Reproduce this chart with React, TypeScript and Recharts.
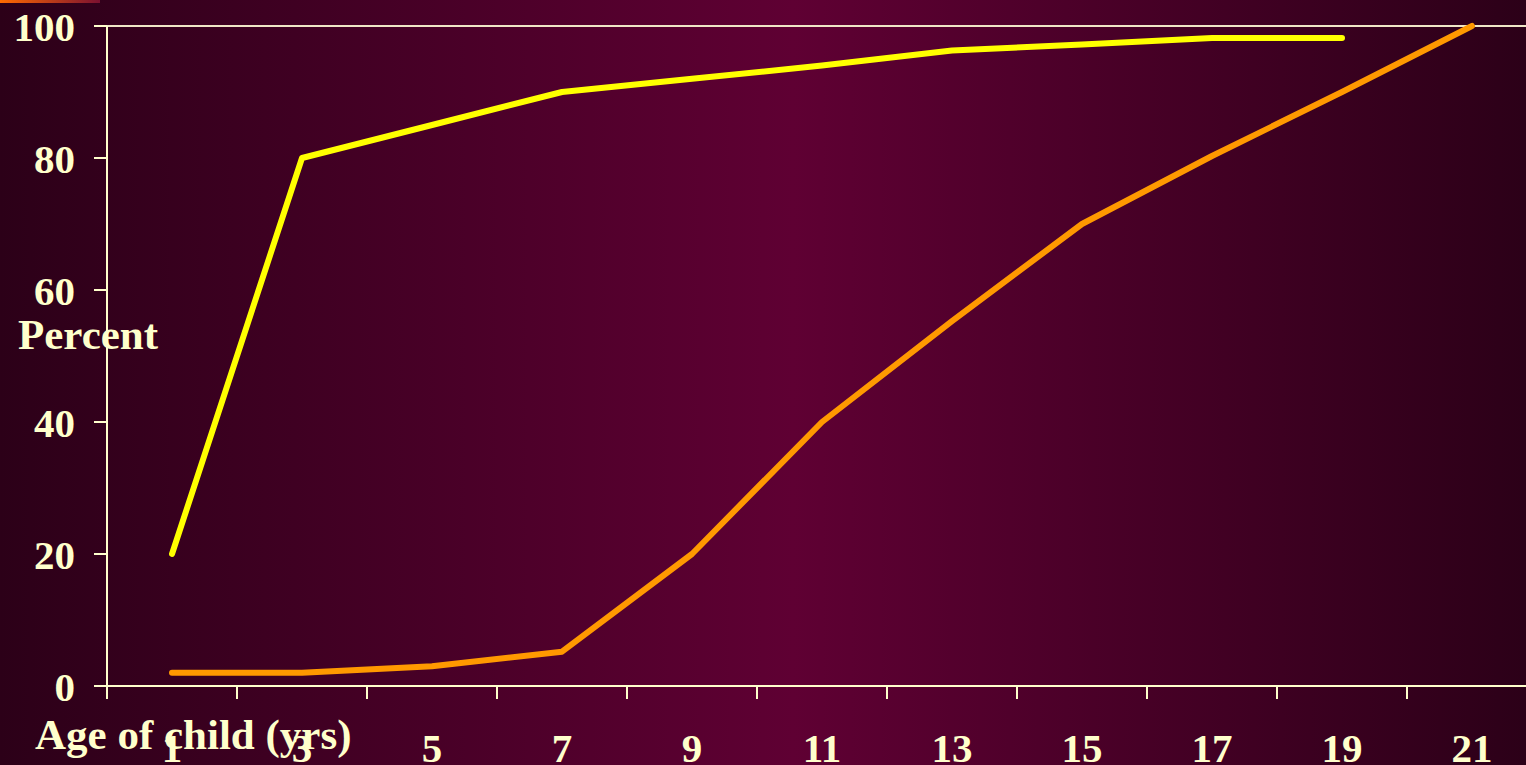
import React from 'react';
import { LineChart, Line, XAxis, YAxis, ReferenceLine } from 'recharts';

const ages = [1, 3, 5, 7, 9, 11, 13, 15, 17, 19, 21];
const yellowSeries = [20, 80, 85, 90, 92, 94, 96.3, 97.2, 98.2, 98.2, null];
const orangeSeries = [2, 2, 3, 5.2, 20, 40, 55.3, 70, 80.3, 90, 100];
const xTicks = [0, 1, 2, 3, 4, 5, 6, 7, 8, 9, 10, 11, 12, 13, 14, 15, 16, 17, 18, 19, 20, 21, 22];
const yTicks = [0, 20, 40, 60, 80, 100];

const data = ages.map((a, i) => ({ age: a, yellow: yellowSeries[i], orange: orangeSeries[i] }));

const CREAM = '#ffffcc';
const FONT = '"Liberation Serif", "Times New Roman", serif';

const XTick = (props: any) => {
  const { x, y, payload } = props;
  const v = payload.value as number;
  if (v % 2 === 0) {
    return <line x1={x} x2={x} y1={y} y2={y + 13} stroke={CREAM} strokeWidth={2} />;
  }
  return (
    <text x={x} y={y + 76} textAnchor="middle" fill={CREAM} fontFamily={FONT} fontWeight="bold" fontSize={41}>
      {v}
    </text>
  );
};

export default function App() {
  return (
    <div
      style={{
        position: 'fixed',
        left: 0,
        top: 0,
        width: 1526,
        height: 765,
        overflow: 'hidden',
        background: 'linear-gradient(to right, #2c0018 0%, #5f0033 52%, #2c0018 100%)',
      }}
    >
      <div
        style={{
          position: 'absolute',
          left: 0,
          top: 0,
          width: 100,
          height: 3,
          background: 'linear-gradient(to right, #ff6a00, #7a1030)',
        }}
      />
      <LineChart width={1537} height={765} data={data} margin={{ top: 26, right: 0, bottom: 0, left: 0 }}>
        <ReferenceLine y={100} stroke="#efe6c6" strokeWidth={2} />
        <XAxis
          dataKey="age"
          type="number"
          domain={[0, 22]}
          ticks={xTicks}
          interval={0}
          tickLine={false}
          tickSize={0}
          tickMargin={0}
          tick={<XTick />}
          height={79}
          axisLine={{ stroke: CREAM, strokeWidth: 2 }}
        />
        <YAxis
          type="number"
          domain={[0, 100]}
          ticks={yTicks}
          width={107}
          tickSize={13}
          tickMargin={19}
          axisLine={{ stroke: CREAM, strokeWidth: 2 }}
          tickLine={{ stroke: CREAM, strokeWidth: 2 }}
          tick={{ fill: CREAM, fontFamily: FONT, fontWeight: 'bold', fontSize: 41 }}
        />
        <Line
          type="linear"
          dataKey="yellow"
          stroke="#ffff00"
          strokeWidth={6}
          strokeLinecap="round"
          strokeLinejoin="round"
          dot={false}
          activeDot={false}
          isAnimationActive={false}
        />
        <Line
          type="linear"
          dataKey="orange"
          stroke="#ff9900"
          strokeWidth={6}
          strokeLinecap="round"
          strokeLinejoin="round"
          dot={false}
          activeDot={false}
          isAnimationActive={false}
        />
      </LineChart>
      <div
        style={{
          position: 'absolute',
          left: 18,
          top: 311,
          fontFamily: FONT,
          fontWeight: 'bold',
          fontSize: 43,
          lineHeight: '48px',
          color: CREAM,
          whiteSpace: 'nowrap',
        }}
      >
        Percent
      </div>
      <div
        style={{
          position: 'absolute',
          left: 35,
          top: 711,
          fontFamily: FONT,
          fontWeight: 'bold',
          fontSize: 43,
          lineHeight: '48px',
          color: CREAM,
          whiteSpace: 'nowrap',
        }}
      >
        Age of child (yrs)
      </div>
    </div>
  );
}
